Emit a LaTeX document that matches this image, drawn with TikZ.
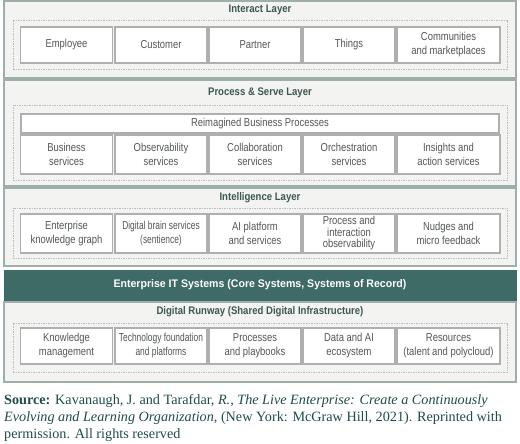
\documentclass[tikz,border=0pt]{standalone}
\usepackage{fontspec}
\setmainfont{Liberation Serif}
\newfontfamily\boxfont[FakeStretch=0.82]{Liberation Sans}
\newfontfamily\narrowfont[FakeStretch=0.73]{Liberation Sans}
\newfontfamily\titlefont[FakeStretch=0.87]{Liberation Sans}
\newfontfamily\bandfont[FakeStretch=0.96]{Liberation Sans}
\definecolor{layerfill}{HTML}{F3F3F1}
\definecolor{layerdraw}{HTML}{9DAFAB}
\definecolor{cellgray}{HTML}{AFAFAF}
\definecolor{dashgray}{HTML}{BDBDBD}
\definecolor{celltext}{HTML}{525856}
\definecolor{titletext}{HTML}{3D5753}
\definecolor{band}{HTML}{3F6B66}
\definecolor{srctext}{HTML}{1F4B49}
\tikzset{
  layer/.style={draw=layerdraw, fill=layerfill, line width=1.1pt, minimum width=512, inner sep=0pt},
  dashbox/.style={draw=dashgray, line width=0.6pt, dash pattern=on 1.5pt off 1pt, minimum width=494, inner sep=0pt},
  cell/.style={draw=cellgray, fill=white, line width=1.4pt, inner sep=0pt, align=center, text=celltext,
     font=\boxfont\fontsize{11.5}{14}\selectfont},
  narrowcell/.style={font=\narrowfont\fontsize{11.5}{14}\selectfont},
  ltitle/.style={text=titletext, font=\titlefont\bfseries\fontsize{11}{13}\selectfont, inner sep=0pt},
  c1/.style={cell, minimum width=92},
  c2/.style={cell, minimum width=92},
  c3/.style={cell, minimum width=92},
  c4/.style={cell, minimum width=92},
  c5/.style={cell, minimum width=103},
}
\begin{document}
\begin{tikzpicture}[x=1pt,y=-1pt]
\useasboundingbox (0,0) rectangle (520,444);
% layers
\node[layer, minimum height=77] (Linteract) at (260,39.5) {};
\node[layer, minimum height=106] (Lprocess) at (260,133) {};
\node[layer, minimum height=78] (Lintel) at (260,227) {};
\node[draw=band, fill=band, minimum width=512, minimum height=30, inner sep=0pt,
  text=white, font=\bandfont\bfseries\fontsize{11}{13}\selectfont] (Lband) at (260,285)
  {Enterprise IT Systems (Core Systems, Systems of Record)};
\node[layer, minimum height=80] (Lrunway) at (260,342) {};
% dashed boxes
\node[dashbox, minimum height=49] (Dinteract) at (260,44.5) {};
\node[dashbox, minimum height=75] (Dprocess) at (260,142.5) {};
\node[dashbox, minimum height=50] (Dintel) at (260,233) {};
\node[dashbox, minimum height=49] (Drunway) at (260,347.5) {};
% titles
\node[ltitle] (Tinteract) at (260,10) {Interact Layer};
\node[ltitle] (Tprocess) at (260,93) {Process \& Serve Layer};
\node[ltitle] (Tintel) at (260,198) {Intelligence Layer};
\node[ltitle] (Trunway) at (260,312) {Digital Runway (Shared Digital Infrastructure)};
% interact cells
\node[c1, minimum height=36] (i1) at (66.5,45) {Employee};
\node[c2, minimum height=36] (i2) at (161,45) {Customer};
\node[c3, minimum height=36] (i3) at (255,45) {Partner};
\node[c4, minimum height=36] (i4) at (349,45) {Things};
\node[c5, minimum height=36] (i5) at (448.5,45) {Communities\\and marketplaces};
% process
\node[cell, minimum width=478, minimum height=19] (p0) at (260,123.5) {Reimagined Business Processes};
\node[c1, minimum height=39] (p1) at (66.5,154.5) {Business\\services};
\node[c2, minimum height=39] (p2) at (161,154.5) {Observability\\services};
\node[c3, minimum height=39] (p3) at (255,154.5) {Collaboration\\services};
\node[c4, minimum height=39] (p4) at (349,154.5) {Orchestration\\services};
\node[c5, minimum height=39] (p5) at (448.5,154.5) {Insights and\\action services};
% intelligence
\node[c1, minimum height=39] (n1) at (66.5,233.5) {Enterprise\\knowledge graph};
\node[c2, narrowcell, minimum height=39] (n2) at (161,233.5) {Digital brain services\\(sentience)};
\node[c3, minimum height=39] (n3) at (255,233.5) {AI platform\\and services};
\node[c4, minimum height=39, font=\boxfont\fontsize{11.5}{11.5}\selectfont] (n4) at (349,233.5) {Process and\\interaction\\observability};
\node[c5, minimum height=39] (n5) at (448.5,233.5) {Nudges and\\micro feedback};
% runway
\node[c1, minimum height=36] (r1) at (66.5,346) {Knowledge\\management};
\node[c2, narrowcell, minimum height=36] (r2) at (161,346) {Technology foundation\\and platforms};
\node[c3, minimum height=36] (r3) at (255,346) {Processes\\and playbooks};
\node[c4, minimum height=36] (r4) at (349,346) {Data and AI\\ecosystem};
\node[c5, minimum height=36] (r5) at (448.5,346) {Resources\\(talent and polycloud)};
% source
\node[anchor=north west, inner sep=0pt, align=left, text=srctext,
  font=\fontsize{14.2}{17}\selectfont] (src) at (4,394)
  {\textbf{Source:} Kavanaugh, J. and Tarafdar, \textit{R., The Live Enterprise: Create a Continuously}\\
   \textit{Evolving and Learning Organization,} (New York: McGraw Hill, 2021). Reprinted with\\
   permission. All rights reserved};
\end{tikzpicture}
\end{document}
